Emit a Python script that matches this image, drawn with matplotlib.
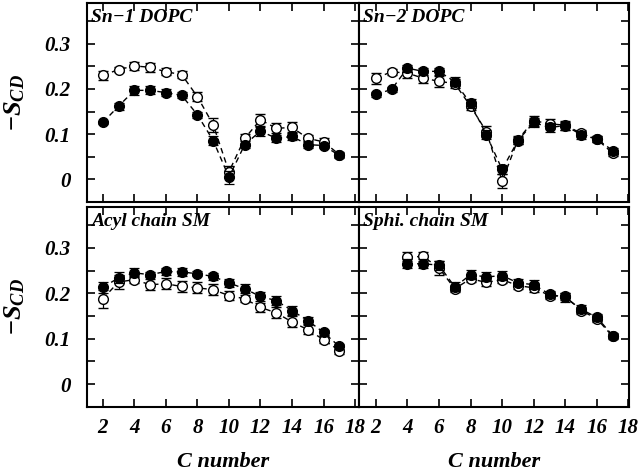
import matplotlib
matplotlib.use('Agg')
import matplotlib.pyplot as plt
import numpy as np

plt.rcParams['font.family'] = 'Liberation Serif'
plt.rcParams['mathtext.fontset'] = 'custom'
plt.rcParams['mathtext.rm'] = 'Liberation Serif:bold'
plt.rcParams['mathtext.it'] = 'Liberation Serif:italic:bold'

# carbon numbers
c_dopc = list(range(2, 18))
c_sphi = list(range(4, 18))

# Sn-1 DOPC
sn1_filled = [0.126, 0.162, 0.197, 0.197, 0.192, 0.186, 0.143, 0.086,
              0.005, 0.077, 0.107, 0.091, 0.095, 0.077, 0.075, 0.053]
sn1_filled_err = [0.004, 0.008, 0.010, 0.009, 0.007, 0.007, 0.007, 0.010,
                  0.014, 0.008, 0.010, 0.008, 0.008, 0.007, 0.006, 0.005]
sn1_open = [0.230, 0.243, 0.251, 0.248, 0.238, 0.232, 0.183, 0.121,
            0.017, 0.091, 0.132, 0.113, 0.115, 0.091, 0.083, 0.055]
sn1_open_err = [0.010, 0.006, 0.008, 0.010, 0.008, 0.008, 0.010, 0.015,
                0.012, 0.010, 0.013, 0.011, 0.011, 0.008, 0.008, 0.005]

# Sn-2 DOPC
sn2_filled = [0.188, 0.199, 0.246, 0.239, 0.239, 0.216, 0.168, 0.099,
              0.022, 0.086, 0.126, 0.115, 0.119, 0.099, 0.089, 0.064]
sn2_filled_err = [0.006, 0.005, 0.008, 0.008, 0.008, 0.010, 0.010, 0.010,
                  0.010, 0.008, 0.010, 0.009, 0.009, 0.009, 0.007, 0.006]
sn2_open = [0.224, 0.238, 0.235, 0.224, 0.217, 0.212, 0.162, 0.106,
            -0.004, 0.088, 0.130, 0.123, 0.120, 0.102, 0.089, 0.058]
sn2_open_err = [0.012, 0.006, 0.010, 0.011, 0.012, 0.010, 0.009, 0.012,
                0.016, 0.009, 0.011, 0.011, 0.010, 0.008, 0.007, 0.006]

# Acyl chain SM
acyl_filled = [0.213, 0.234, 0.245, 0.241, 0.248, 0.247, 0.243, 0.237,
               0.223, 0.210, 0.193, 0.184, 0.162, 0.140, 0.114, 0.083]
acyl_filled_err = [0.012, 0.012, 0.010, 0.006, 0.008, 0.008, 0.006, 0.008,
                   0.009, 0.010, 0.010, 0.010, 0.010, 0.008, 0.006, 0.006]
acyl_open = [0.188, 0.225, 0.230, 0.219, 0.221, 0.215, 0.212, 0.208,
             0.195, 0.188, 0.169, 0.157, 0.137, 0.120, 0.098, 0.074]
acyl_open_err = [0.020, 0.015, 0.008, 0.012, 0.012, 0.012, 0.012, 0.012,
                 0.010, 0.008, 0.010, 0.012, 0.012, 0.010, 0.008, 0.008]

# Sphi. chain SM
sphi_filled = [0.265, 0.265, 0.262, 0.214, 0.241, 0.236, 0.239, 0.223,
               0.219, 0.198, 0.191, 0.165, 0.147, 0.107]
sphi_filled_err = [0.010, 0.010, 0.010, 0.010, 0.010, 0.010, 0.010, 0.008,
                   0.010, 0.008, 0.010, 0.009, 0.008, 0.006]
sphi_open = [0.280, 0.281, 0.256, 0.210, 0.232, 0.224, 0.230, 0.217,
             0.212, 0.195, 0.193, 0.162, 0.144, 0.105]
sphi_open_err = [0.010, 0.010, 0.016, 0.008, 0.008, 0.008, 0.008, 0.008,
                 0.010, 0.008, 0.008, 0.008, 0.008, 0.006]

panels = [
    ('Sn\u22121 DOPC', c_dopc, sn1_filled, sn1_filled_err, sn1_open, sn1_open_err),
    ('Sn\u22122 DOPC', c_dopc, sn2_filled, sn2_filled_err, sn2_open, sn2_open_err),
    ('Acyl chain SM', c_dopc, acyl_filled, acyl_filled_err, acyl_open, acyl_open_err),
    ('Sphi. chain SM', c_sphi, sphi_filled, sphi_filled_err, sphi_open, sphi_open_err),
]

fig = plt.figure(figsize=(6.4, 4.71), dpi=100)
boxes = [
    [0.136, 0.571, 0.425, 0.4225],
    [0.561, 0.571, 0.422, 0.4225],
    [0.136, 0.136, 0.425, 0.4246],
    [0.561, 0.136, 0.422, 0.4246],
]
xlims = [(1.0, 18.25), (0.94, 18.04), (1.0, 18.25), (0.94, 18.04)]

for i, (title, c, yf, ef, yo, eo) in enumerate(panels):
    ax = fig.add_axes(boxes[i])
    # open circles
    ax.errorbar(c, yo, yerr=eo, fmt='o', ls=(0, (4, 3)), color='black', lw=1.0,
                mfc='white', mec='black', mew=1.0, ms=7, capsize=3.5,
                elinewidth=0.9, capthick=0.9, zorder=2)
    # filled circles
    ax.errorbar(c, yf, yerr=ef, fmt='o', ls=(0, (4, 3)), color='black', lw=1.0,
                mfc='black', mec='black', ms=7, capsize=3.5,
                elinewidth=0.9, capthick=0.9, zorder=3)

    ax.set_xlim(*xlims[i])
    ax.set_ylim(-0.05, 0.39)
    ax.set_xticks(range(2, 19, 2))
    ax.set_yticks([0, 0.1, 0.2, 0.3])
    ax.set_yticks([0.05, 0.15, 0.25, 0.35], minor=True)
    ax.tick_params(which='both', direction='in', top=True, right=True,
                   length=6, width=1.2, labelsize=15)
    for s in ax.spines.values():
        s.set_linewidth(1.5)

    ax.text(0.015, 0.97, title, transform=ax.transAxes, ha='left', va='top',
            fontsize=14, fontweight='bold', fontstyle='italic')

    if i % 2 == 0:
        ax.set_yticklabels(['0', '0.1', '0.2', '0.3'], fontweight='bold',
                           fontstyle='italic')
        ax.tick_params(axis='y', pad=12)
        ax.set_ylabel(r'$-S_{CD}$', fontsize=19, labelpad=12)
    else:
        ax.set_yticklabels([])

    if i >= 2:
        ax.set_xticklabels([str(v) for v in range(2, 19, 2)], fontweight='bold',
                           fontstyle='italic')
        ax.set_xlabel('C number', fontsize=16, fontweight='bold',
                      fontstyle='italic', labelpad=10)
        ax.tick_params(axis='x', pad=8)
    else:
        ax.set_xticklabels([])

fig.savefig('out.png', dpi=100)
